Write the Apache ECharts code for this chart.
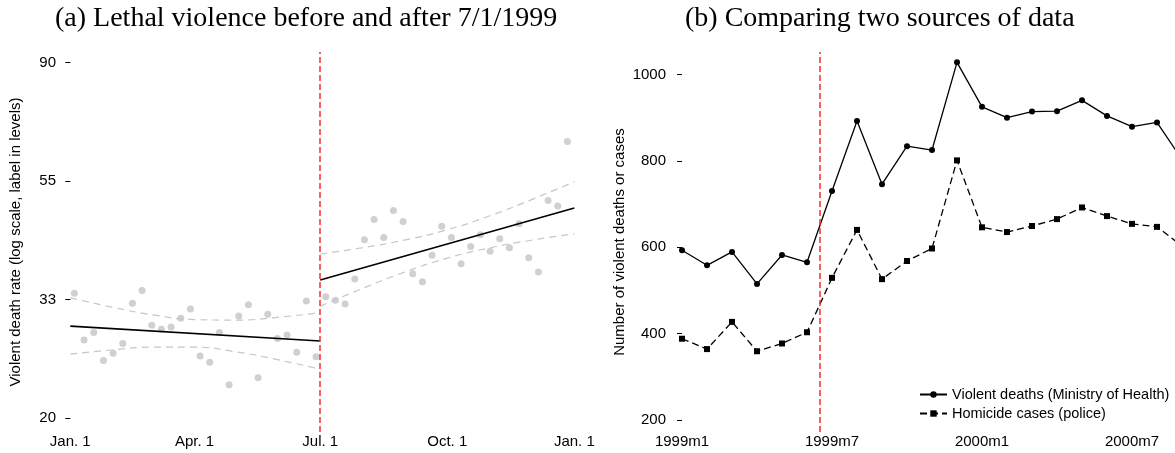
<!DOCTYPE html>
<html>
<head>
<meta charset="utf-8">
<script src="https://cdn.jsdelivr.net/npm/echarts@6/dist/echarts.min.js"></script>
<style>
  html, body { margin: 0; padding: 0; background: #fff; }
  #main { width: 1175px; height: 453px; }
</style>
</head>
<body>
<div id="main"></div>
<script>
// panel (a): weekly violent death rates, 1999 (first point on day 3, then every 7 days)
var firstDay = 3;
var weekRates = [34.0, 27.9, 28.8, 25.6, 26.4, 27.5, 32.6, 34.4, 29.7, 29.2,
                 29.5, 30.6, 31.8, 26.1, 25.4, 28.8, 23.1, 30.9, 32.4, 23.8,
                 31.1, 28.1, 28.5, 26.5, 32.9, 26.0,
                 33.5, 33.0, 32.5, 36.1, 42.6, 46.4, 43.0, 48.2, 46.0, 36.9,
                 35.7, 39.9, 45.1, 43.0, 38.5, 41.4, 43.5, 40.6, 42.8, 41.2,
                 45.6, 39.5, 37.2, 50.3, 49.1, 64.5];
var cutDay = 181;
var fitBefore = [[0, 29.6], [181, 27.8]];
var fitAfter = [[181, 35.96], [365, 48.7]];
var ciDaysBefore = [0, 30, 60, 90, 120, 150, 181];
var ciUpperBefore = [33.35, 32.07, 31.03, 30.42, 30.36, 30.72, 31.31];
var ciLowerBefore = [26.29, 26.76, 27.08, 27.08, 26.55, 25.69, 24.68];
var ciDaysAfter = [181, 211, 242, 273, 303, 334, 365];
var ciUpperAfter = [40.12, 41.18, 42.55, 44.45, 47.05, 50.46, 54.43];
var ciLowerAfter = [32.20, 34.64, 37.16, 39.42, 41.14, 42.52, 43.69];
var dayTicks = [0, 90, 181, 273, 365];
var dayTickLabels = ['Jan. 1', 'Apr. 1', 'Jul. 1', 'Oct. 1', 'Jan. 1'];
var rateTicks = [3, 3.5, 4, 4.5]; // log units

// panel (b): monthly counts, 1999m1 onwards (the figure is cut off on the right)
var violentDeaths = [593, 558, 589, 515, 582, 565, 730, 892, 746, 834, 825, 1028,
                     925, 900, 914, 915, 940, 904, 879, 889, 803];
var homicideCases = [388, 364, 427, 359, 377, 403, 529, 640, 526, 568, 597, 801,
                     646, 635, 649, 665, 692, 672, 654, 647, 603];
var monthTicks = [0, 6, 12, 18];
var monthTickLabels = ['1999m1', '1999m7', '2000m1', '2000m7'];
var countTicks = [200, 400, 600, 800, 1000];
var cutMonth = 5.5;

var sans = 'Liberation Sans';
var serif = 'Liberation Serif';

function logPairs(days, vals) {
  return days.map(function (d, i) { return [d, Math.log(vals[i])]; });
}

var dom = document.getElementById('main');
var myChart = echarts.init(dom, null, { renderer: 'canvas' });

var redLine = {
  silent: true,
  symbol: 'none',
  label: { show: false },
  lineStyle: { color: '#f03030', type: [6, 3], width: 1.5 }
};

var ciStyle = { color: '#c6c6c6', type: [7, 5], width: 1.2 };

option = {
  animation: false,
  backgroundColor: '#fff',
  title: [
    {
      text: '(a) Lethal violence before and after 7/1/1999',
      left: 50, top: 0,
      textStyle: { fontFamily: serif, fontSize: 28, fontWeight: 'normal', color: '#000' }
    },
    {
      text: '(b) Comparing two sources of data',
      left: 680, top: 0,
      textStyle: { fontFamily: serif, fontSize: 28, fontWeight: 'normal', color: '#000' }
    }
  ],
  legend: {
    left: 914, top: 382,
    orient: 'vertical',
    itemWidth: 27, itemHeight: 8, itemGap: 4,
    textStyle: { fontFamily: sans, fontSize: 14.5, color: '#000' },
    data: ['Violent deaths (Ministry of Health)', 'Homicide cases (police)']
  },
  grid: [
    { left: 62, top: 52, width: 520.6, height: 380 },
    { left: 672, top: 52, right: 0, height: 380 }
  ],
  xAxis: [
    {
      gridIndex: 0, type: 'value', min: -6, max: 371,
      axisLine: { show: false }, axisTick: { show: false }, splitLine: { show: false },
      axisLabel: {
        customValues: dayTicks, margin: 2,
        fontFamily: sans, fontSize: 15, color: '#000',
        formatter: function (v) { return dayTickLabels[dayTicks.indexOf(v)]; }
      }
    },
    {
      gridIndex: 1, type: 'value', min: -0.4, max: 19.72,
      axisLine: { show: false }, axisTick: { show: false }, splitLine: { show: false },
      axisLabel: {
        customValues: monthTicks, margin: 2,
        fontFamily: sans, fontSize: 15, color: '#000',
        formatter: function (v) { return monthTickLabels[monthTicks.indexOf(v)]; }
      }
    }
  ],
  yAxis: [
    {
      gridIndex: 0, type: 'value', min: 2.941, max: 4.544,
      name: 'Violent death rate (log scale, label in levels)',
      nameLocation: 'middle', nameGap: 39,
      nameTextStyle: { fontFamily: sans, fontSize: 15, color: '#000' },
      axisLine: { show: false }, splitLine: { show: false },
      axisTick: { show: true, customValues: rateTicks, length: 5, lineStyle: { color: '#000' } },
      axisLabel: {
        customValues: rateTicks, margin: 6,
        fontFamily: sans, fontSize: 15, color: '#000',
        formatter: function (v) { return String(Math.round(Math.exp(v))); }
      }
    },
    {
      gridIndex: 1, type: 'value', min: 172, max: 1052,
      name: 'Number of violent deaths or cases',
      nameLocation: 'middle', nameGap: 45,
      nameTextStyle: { fontFamily: sans, fontSize: 15, color: '#000' },
      axisLine: { show: false }, splitLine: { show: false },
      axisTick: { show: true, customValues: countTicks, length: 5, lineStyle: { color: '#000' } },
      axisLabel: {
        customValues: countTicks, margin: 6,
        fontFamily: sans, fontSize: 15, color: '#000',
        formatter: function (v) { return String(v); }
      }
    }
  ],
  series: [
    {
      type: 'scatter', xAxisIndex: 0, yAxisIndex: 0,
      symbolSize: 7,
      itemStyle: { color: '#c4c4c4' },
      data: weekRates.map(function (r, i) { return [firstDay + 7 * i, Math.log(r)]; }),
      markLine: Object.assign({ data: [{ xAxis: cutDay }] }, redLine)
    },
    {
      type: 'line', xAxisIndex: 0, yAxisIndex: 0, symbol: 'none', smooth: true,
      lineStyle: ciStyle, data: logPairs(ciDaysBefore, ciUpperBefore)
    },
    {
      type: 'line', xAxisIndex: 0, yAxisIndex: 0, symbol: 'none', smooth: true,
      lineStyle: ciStyle, data: logPairs(ciDaysBefore, ciLowerBefore)
    },
    {
      type: 'line', xAxisIndex: 0, yAxisIndex: 0, symbol: 'none', smooth: true,
      lineStyle: ciStyle, data: logPairs(ciDaysAfter, ciUpperAfter)
    },
    {
      type: 'line', xAxisIndex: 0, yAxisIndex: 0, symbol: 'none', smooth: true,
      lineStyle: ciStyle, data: logPairs(ciDaysAfter, ciLowerAfter)
    },
    {
      type: 'line', xAxisIndex: 0, yAxisIndex: 0, symbol: 'none',
      lineStyle: { color: '#000', width: 1.6 },
      data: fitBefore.map(function (p) { return [p[0], Math.log(p[1])]; })
    },
    {
      type: 'line', xAxisIndex: 0, yAxisIndex: 0, symbol: 'none',
      lineStyle: { color: '#000', width: 1.6 },
      data: fitAfter.map(function (p) { return [p[0], Math.log(p[1])]; })
    },
    {
      name: 'Violent deaths (Ministry of Health)',
      type: 'line', xAxisIndex: 1, yAxisIndex: 1,
      symbol: 'circle', symbolSize: 6, clip: true,
      itemStyle: { color: '#000' },
      lineStyle: { color: '#000', width: 1.3 },
      data: violentDeaths.map(function (v, i) { return [i, v]; }),
      markLine: Object.assign({ data: [{ xAxis: cutMonth }] }, redLine)
    },
    {
      name: 'Homicide cases (police)',
      type: 'line', xAxisIndex: 1, yAxisIndex: 1,
      symbol: 'rect', symbolSize: 6, clip: true,
      itemStyle: { color: '#000' },
      lineStyle: { color: '#000', width: 1.3, type: [7, 4] },
      data: homicideCases.map(function (v, i) { return [i, v]; })
    }
  ]
};

if (option && typeof option === 'object') {
  myChart.setOption(option, true);
}
</script>
</body>
</html>
